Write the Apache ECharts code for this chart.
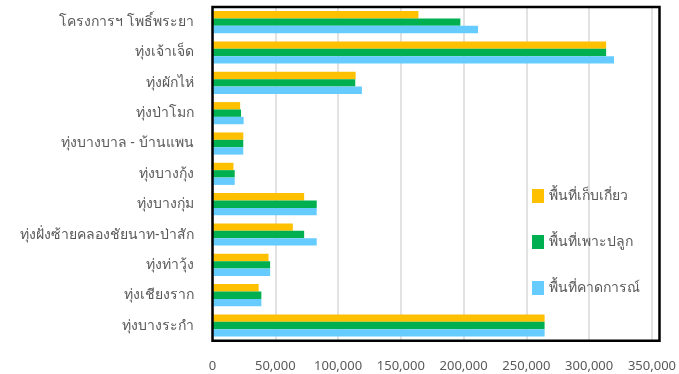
<!DOCTYPE html>
<html>
<head>
<meta charset="utf-8">
<script src="https://cdn.jsdelivr.net/npm/echarts@6/dist/echarts.min.js"></script>
<style>
html,body{margin:0;padding:0;background:#fff;}
#chart{width:679px;height:374px;}
</style>
</head>
<body>
<div id="chart"></div>
<script>
const categories = [
  'โครงการฯ โพธิ์พระยา',
  'ทุ่งเจ้าเจ็ด',
  'ทุ่งผักไห่',
  'ทุ่งป่าโมก',
  'ทุ่งบางบาล - บ้านแพน',
  'ทุ่งบางกุ้ง',
  'ทุ่งบางกุ่ม',
  'ทุ่งฝั่งซ้ายคลองชัยนาท-ป่าสัก',
  'ทุ่งท่าวุ้ง',
  'ทุ่งเชียงราก',
  'ทุ่งบางระกำ'
];
const seriesNames = ['พื้นที่เก็บเกี่ยว', 'พื้นที่เพาะปลูก', 'พื้นที่คาดการณ์'];
const harvested = [164000, 313500, 114000, 22000, 24500, 16700, 73000, 64000, 44600, 36800, 264500];
const planted   = [197400, 313500, 113700, 22700, 24500, 17700, 83000, 73000, 45900, 38900, 264500];
const forecast  = [211500, 319800, 119000, 24800, 24500, 17700, 83000, 83000, 45900, 38900, 264500];
const xTicks = [0, 50000, 100000, 150000, 200000, 250000, 300000, 350000];
const colors = ['#FFC000', '#00B050', '#66CCFF'];

const chart = echarts.init(document.getElementById('chart'), null, {renderer: 'canvas'});
const fontFam = 'Tahoma, "Noto Sans", "DejaVu Sans", sans-serif';
const G = {left: 212.5, right: 19.5, top: 7, bottom: 33.3};
const W = 679, H = 374;
const mk = (name, data, c) => ({
  name, type: 'bar', data,
  itemStyle: {color: c},
  barGap: '0%', barCategoryGap: '27%'
});
chart.setOption({
  animation: false,
  color: colors,
  grid: {left: G.left, right: G.right, top: G.top, bottom: G.bottom},
  graphic: [{
    type: 'rect', z: 100, silent: true,
    shape: {x: G.left, y: G.top, width: W - G.left - G.right, height: H - G.top - G.bottom},
    style: {fill: 'none', stroke: '#000', lineWidth: 2.5}
  }],
  legend: {
    orient: 'vertical', right: 34, top: 184, itemWidth: 12, itemHeight: 14, itemGap: 32,
    icon: 'rect',
    textStyle: {color: '#595959', fontSize: 14, fontFamily: fontFam},
    data: seriesNames
  },
  xAxis: {
    type: 'value', min: xTicks[0], max: xTicks[xTicks.length - 1], interval: 50000,
    axisLine: {show: false}, axisTick: {show: false},
    splitLine: {lineStyle: {color: '#d9d9d9', width: 1.5}},
    axisLabel: {color: '#595959', fontSize: 13, fontFamily: fontFam, margin: 19,
      formatter: v => v.toLocaleString('en-US')}
  },
  yAxis: {
    type: 'category', data: categories, inverse: true,
    axisLine: {show: false},
    axisTick: {show: false},
    axisLabel: {color: '#595959', fontSize: 14, fontFamily: fontFam, margin: 19}
  },
  series: [
    mk(seriesNames[0], harvested, colors[0]),
    mk(seriesNames[1], planted, colors[1]),
    mk(seriesNames[2], forecast, colors[2])
  ]
});
</script>
</body>
</html>
